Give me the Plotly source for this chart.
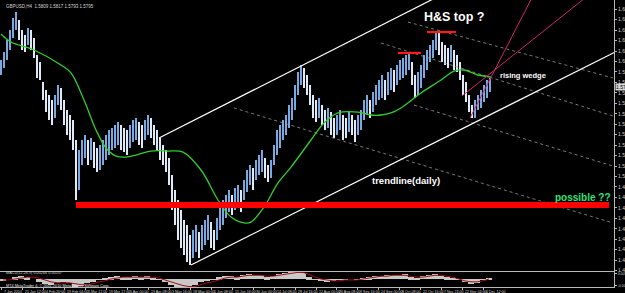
import plotly.graph_objects as go

# ---------------- data (GBPUSD H4, coarse bars) ----------------
bar_high = [1.6033,1.6103,1.6209,1.6297,1.6403,1.6455,1.6385,1.6297,1.6253,1.6315,
            1.6297,1.6227,1.6077,1.6015,1.5839,1.5769,1.5725,1.5681,1.5725,1.5813,
            1.5787,1.5681,1.5593,1.5549,1.5505,1.5329,1.5241,1.5329,1.5373,1.5329,
            1.5347,1.5311,1.5259,1.5285,1.5329,1.5373,1.5417,1.5435,1.5461,1.5487,
            1.5461,1.5435,1.5417,1.5461,1.5505,1.5523,1.5487,1.5461,1.5505,1.5549,
            1.5523,1.5461,1.5417,1.5347,1.5285,1.5241,1.5171,1.5021,1.4889,1.4801,
            1.4713,1.4625,1.4581,1.4493,1.4537,1.4581,1.4519,1.4581,1.4625,1.4669,
            1.4607,1.4537,1.4643,1.4757,1.4801,1.4845,1.4889,1.4845,1.4907,1.4933,
            1.4889,1.4977,1.5065,1.5109,1.5083,1.5153,1.5197,1.5241,1.5171,1.5109,
            1.5153,1.5285,1.5417,1.5461,1.5505,1.5549,1.5637,1.5699,1.5813,1.5927,
            1.5989,1.5963,1.5901,1.5813,1.5725,1.5681,1.5699,1.5637,1.5593,1.5611,
            1.5575,1.5523,1.5549,1.5593,1.5549,1.5523,1.5575,1.5549,1.5505,1.5549,
            1.5593,1.5681,1.5725,1.5681,1.5751,1.5813,1.5857,1.5901,1.5857,1.5927,
            1.5963,1.5945,1.5989,1.6033,1.6051,1.6077,1.6103,1.6015,1.5901,1.5927,
            1.5989,1.6077,1.6121,1.6165,1.6209,1.6279,1.6271,1.6191,1.6165,1.6139,
            1.6165,1.6121,1.6077,1.6015,1.5901,1.5839,1.5725,1.5637,1.5681,1.5725,
            1.5769,1.5813,1.5857,1.5875]
bar_low = [1.5901,1.5963,1.6033,1.6121,1.6227,1.6297,1.6209,1.6121,1.6103,1.6165,
           1.6121,1.6051,1.5875,1.5857,1.5681,1.5575,1.5505,1.5461,1.5523,1.5637,
           1.5593,1.5461,1.5373,1.5329,1.5241,1.4801,1.4889,1.5109,1.5171,1.5109,
           1.5153,1.5083,1.5047,1.5065,1.5109,1.5153,1.5197,1.5241,1.5259,1.5285,
           1.5241,1.5223,1.5197,1.5259,1.5311,1.5329,1.5285,1.5259,1.5329,1.5373,
           1.5347,1.5285,1.5241,1.5153,1.5109,1.5047,1.4933,1.4713,1.4581,1.4449,
           1.4379,1.4317,1.4255,1.4229,1.4291,1.4343,1.4291,1.4361,1.4405,1.4449,
           1.4379,1.4361,1.4449,1.4537,1.4581,1.4643,1.4695,1.4669,1.4713,1.4757,
           1.4695,1.4801,1.4871,1.4933,1.4889,1.4977,1.5021,1.5047,1.4995,1.4959,
           1.4995,1.5109,1.5197,1.5259,1.5329,1.5373,1.5435,1.5505,1.5593,1.5725,
           1.5813,1.5787,1.5725,1.5637,1.5523,1.5487,1.5523,1.5461,1.5417,1.5435,
           1.5373,1.5347,1.5373,1.5417,1.5329,1.5347,1.5399,1.5373,1.5311,1.5373,
           1.5417,1.5505,1.5549,1.5523,1.5575,1.5637,1.5681,1.5699,1.5681,1.5725,
           1.5769,1.5751,1.5813,1.5857,1.5875,1.5901,1.5945,1.5813,1.5699,1.5725,
           1.5787,1.5875,1.5945,1.6015,1.6051,1.6121,1.6077,1.6015,1.5989,1.5963,
           1.6015,1.5945,1.5927,1.5857,1.5725,1.5663,1.5575,1.5523,1.5523,1.5593,
           1.5611,1.5663,1.5699,1.5751]

# moving average (green)
ma_x = [0, 3.33, 11, 20, 23.33, 27.67, 31.67, 35, 38.33, 41.67, 45, 50, 55.67, 60.67,
        66.67, 72.33, 76.67, 81, 83.33, 87.67, 92.33, 96.67, 103.33, 107.67, 112.33,
        119, 123.33, 126.67, 130, 133.33, 140, 146.67, 151, 154.33, 159, 163.33]
ma_val = [1.6262, 1.6191, 1.6121, 1.5989, 1.5919, 1.5681, 1.5417, 1.5259, 1.5188, 1.5179,
          1.5197, 1.5232, 1.5232, 1.5223, 1.5065, 1.4801, 1.4651, 1.4599, 1.4607, 1.4739,
          1.4951, 1.5091, 1.5329, 1.5479, 1.5567, 1.5575, 1.5549, 1.5549, 1.5567, 1.5611,
          1.5743, 1.5857, 1.5936, 1.5945, 1.5901, 1.5883]

# MACD(12,26,9) histogram and signal
macd_hist = [-0.0016,0,0.0016,0.0024,0.0016,0,-0.0024,-0.004,-0.0048,-0.0032,
             -0.0024,-0.0032,-0.0064,-0.0056,-0.0032,-0.0024,-0.0008,0.0008,0.0016,0.0024,
             0.0016,0.0016,0.0024,0.0016,0.0024,0.0008,-0.0008,-0.0024,-0.0048,-0.0072,
             -0.008,-0.0072,-0.0048,-0.0024,-0.0016,-0.0008,0.0016,0.0024,0.0024,0.0016,
             0.0032,0.004,0.0032,0.0032,0.0016,0.0024,0.004,0.0048,0.0056,0.0064,
             0.0048,0.0016,-0.0008,-0.0016,-0.0024,-0.0016,-0.0008,-0.0008,0,-0.0008,
             0.0008,0.0016,0.0024,0.0024,0.0032,0.0032,0.0032,0.004,0.0016,0.0008,
             0.0024,0.0032,0.004,0.0024,0.0016,0.0008,-0.0008,-0.0024,-0.004,-0.0032,
             -0.0008,0.0008]
macd_signal = [-0.0008,-0.0008,0,0.0008,0.0016,0.0016,0.0008,-0.0008,-0.0024,-0.0032,
               -0.0032,-0.0032,-0.004,-0.0048,-0.0048,-0.004,-0.0024,-0.0016,0,0.0008,
               0.0016,0.0016,0.0016,0.0016,0.0016,0.0016,0.0008,-0.0008,-0.0024,-0.004,
               -0.0056,-0.0064,-0.0064,-0.0048,-0.0032,-0.0024,-0.0008,0.0008,0.0016,0.0016,
               0.0024,0.0032,0.0032,0.0032,0.0024,0.0024,0.0032,0.004,0.0048,0.0056,
               0.0056,0.004,0.0016,0,-0.0008,-0.0016,-0.0016,-0.0008,-0.0008,-0.0008,
               0,0.0008,0.0016,0.0024,0.0024,0.0032,0.0032,0.0032,0.0024,0.0016,
               0.0016,0.0024,0.0032,0.0032,0.0024,0.0016,0,-0.0016,-0.0024,-0.0024,
               -0.0016,0]

# drawing objects: (x1, price1, x2, price2)
upper_channel = (52.67, 1.5347, 146.67, 1.6605)
trendline_daily = (63.33, 1.4229, 204.67, 1.6103)
dotted_lines = [(135.67, 1.6367, 204, 1.5875),
                (126.67, 1.6183, 204, 1.5540),
                (137.67, 1.5637, 204, 1.5100),
                (77.67, 1.5611, 204, 1.4599)]
wedge_lines = [(156.33, 1.5523, 178.67, 1.6667),
               (153.67, 1.5716, 198.0, 1.6649)]
support_level = (25, 1.4757, 202.67)
hs_marks = [(132.33, 140.0, 1.6095), (142.0, 151.67, 1.6279)]
last_price = 1.5795

price_ticks = [1.6480,1.6388,1.6296,1.6204,1.6112,1.6020,1.5928,1.5836,1.5744,1.5652,
               1.5560,1.5468,1.5376,1.5284,1.5192,1.5100,1.5008,1.4916,1.4824,1.4732,
               1.4640,1.4548,1.4456,1.4364,1.4272,1.4180]
time_tick_pos = [0.33,7.33,14.33,21.33,28.33,35.33,42.33,49,56,63,70,77,84,91,98,105,
                 111.67,118.67,125.67,132.67,139.67,146.67,153.67,160.67]
time_tick_text = ["7 Jan 2010","21 Jan 12:00","4 Feb 20:00","19 Feb 04:00","5 Mar 12:00",
                  "19 Mar 17:00","5 Apr 00:00","19 Apr 08:00","3 May 16:00","18 May 00:00",
                  "1 Jun 08:00","15 Jun 16:00","30 Jun 00:00","14 Jul 08:00","28 Jul 16:00",
                  "12 Aug 00:00","26 Aug 08:00","9 Sep 16:00","24 Sep 00:00","8 Oct 08:00",
                  "22 Oct 16:00","7 Nov 23:00","22 Nov 04:00","6 Dec 12:00"]

# ---------------- figure ----------------
fig = go.Figure()
xs = list(range(len(bar_high)))
mids = [(h + l) / 2 for h, l in zip(bar_high, bar_low)]
colors = ["#78a9e0" if i == 0 or mids[i] >= mids[i - 1] else "#dfeaf7" for i in range(len(mids))]
fig.add_trace(go.Bar(x=xs, y=[h - l for h, l in zip(bar_high, bar_low)], base=bar_low,
                     width=0.65, marker=dict(color=colors, line=dict(width=0)),
                     xaxis="x", yaxis="y", hoverinfo="skip"))

fig.add_trace(go.Scatter(x=ma_x, y=ma_val, mode="lines", line=dict(color="#32cd32", width=1.3, shape="spline"),
                         xaxis="x", yaxis="y"))

def seg(t, color, width, dash="solid"):
    fig.add_trace(go.Scatter(x=[t[0], t[2]], y=[t[1], t[3]], mode="lines",
                             line=dict(color=color, width=width, dash=dash), xaxis="x", yaxis="y"))

for d in dotted_lines:
    seg(d, "#9a9a9a", 0.8, "dot")
seg(upper_channel, "#ffffff", 1.2)
seg(trendline_daily, "#ffffff", 1.2)
for w in wedge_lines:
    seg(w, "#d0266e", 1.0)
seg((support_level[0], support_level[1], support_level[2], support_level[1]), "#ff0000", 6)
for x1, x2, p in hs_marks:
    seg((x1, p, x2, p), "#ff1a1a", 2.2)

# MACD panel
mx = [0.67 + 2 * k for k in range(len(macd_hist))]
fig.add_trace(go.Bar(x=mx, y=macd_hist, width=2, marker=dict(color="#c8c8c8", line=dict(width=0)),
                     xaxis="x2", yaxis="y2"))
fig.add_trace(go.Scatter(x=mx, y=macd_signal, mode="lines", line=dict(color="#a01010", width=1),
                         xaxis="x2", yaxis="y2"))

axcol = "#b8b8b8"
fig.update_layout(
    width=625, height=293, margin=dict(l=0, r=11, t=0, b=6),
    paper_bgcolor="black", plot_bgcolor="black", showlegend=False, bargap=0,
    xaxis=dict(domain=[0, 1], range=[-0.333, 204.333], anchor="y", showticklabels=False,
               showgrid=False, zeroline=False, showline=True, linecolor=axcol, linewidth=1, ticks=""),
    xaxis2=dict(domain=[0, 1], range=[-0.333, 204.333], anchor="y2", showticklabels=False,
                showgrid=False, zeroline=False, showline=True, linecolor=axcol, linewidth=1,
                ticks="outside", tickvals=time_tick_pos, ticklen=2, tickcolor=axcol),
    yaxis=dict(domain=[0.0557, 1], range=[1.41762, 1.6561], side="right", anchor="x",
               showgrid=False, zeroline=False, showline=True, mirror=True, linecolor=axcol, linewidth=1,
               ticks="outside", ticklen=2, tickcolor=axcol, tickvals=price_ticks,
               ticktext=[f"{v:.4f}" for v in price_ticks],
               tickfont=dict(family="Liberation Sans", size=5, color="#d0d0d0"), automargin=False),
    yaxis2=dict(domain=[0, 0.0523], range=[-0.0068, 0.006], side="right", anchor="x2",
                showgrid=False, zeroline=False, showline=True, mirror=True, linecolor=axcol, linewidth=1,
                ticks="outside", ticklen=2, tickcolor=axcol, tickvals=[0.0045, -0.0055],
                ticktext=["0.0054", "-0.0070"],
                tickfont=dict(family="Liberation Sans", size=3.5, color="#d0d0d0"), automargin=False),
)

ann = []
for pos, txt in zip(time_tick_pos, time_tick_text):
    ann.append(dict(x=pos, xref="x2", y=0, yref="paper", yanchor="top", xanchor="left", xshift=0.5, yshift=-0.5,
                    text=txt, showarrow=False,
                    font=dict(family="Liberation Sans Narrow, Liberation Sans", size=3.6, color="#d0d0d0")))
ann += [
    dict(x=0.006, xref="paper", y=1.6561 - 0.00088 * 6, yref="y", xanchor="left", yanchor="middle",
         text="GBPUSD,H4  1.5809 1.5817 1.5793 1.5795", showarrow=False,
         font=dict(family="Liberation Sans", size=4.5, color="#d8d8d8")),
    dict(x=151, xref="x", y=1.6561 - 0.00088 * 17, yref="y", text="<b>H&amp;S top ?</b>", showarrow=False,
         font=dict(family="Liberation Sans", size=12.5, color="white")),
    dict(x=174, xref="x", y=1.6561 - 0.00088 * 75, yref="y", text="<b>rising wedge</b>", showarrow=False,
         font=dict(family="Liberation Sans", size=7.5, color="white")),
    dict(x=135, xref="x", y=1.6561 - 0.00088 * 180, yref="y", text="<b>trendline(daily)</b>", showarrow=False,
         font=dict(family="Liberation Sans", size=9.5, color="white")),
    dict(x=194, xref="x", y=1.6561 - 0.00088 * 197, yref="y", text="<b>possible ??</b>", showarrow=False,
         font=dict(family="Liberation Sans", size=10, color="#33e27a")),
    dict(x=1, xref="paper", y=last_price, yref="y", xanchor="left", yanchor="middle", xshift=1,
         text=f"{last_price:.4f}", showarrow=False, bgcolor="#d8d8d8", borderpad=0,
         font=dict(family="Liberation Sans", size=5, color="black")),
    dict(x=0.006, xref="paper", y=0.0052, yref="y2", xanchor="left", yanchor="middle",
         text="MACD(12,26,9) 0.00266 0.00207", showarrow=False,
         font=dict(family="Liberation Sans", size=3.8, color="#d0d0d0")),
    dict(x=0.006, xref="paper", y=-0.0056, yref="y2", xanchor="left", yanchor="middle",
         text="MT4 MetaTrader 4, © 2001-2010 MetaQuotes Software Corp.", showarrow=False,
         font=dict(family="Liberation Sans", size=3.8, color="#e0e0e0")),
]
fig.update_layout(annotations=ann)

fig.write_html("out.html")
